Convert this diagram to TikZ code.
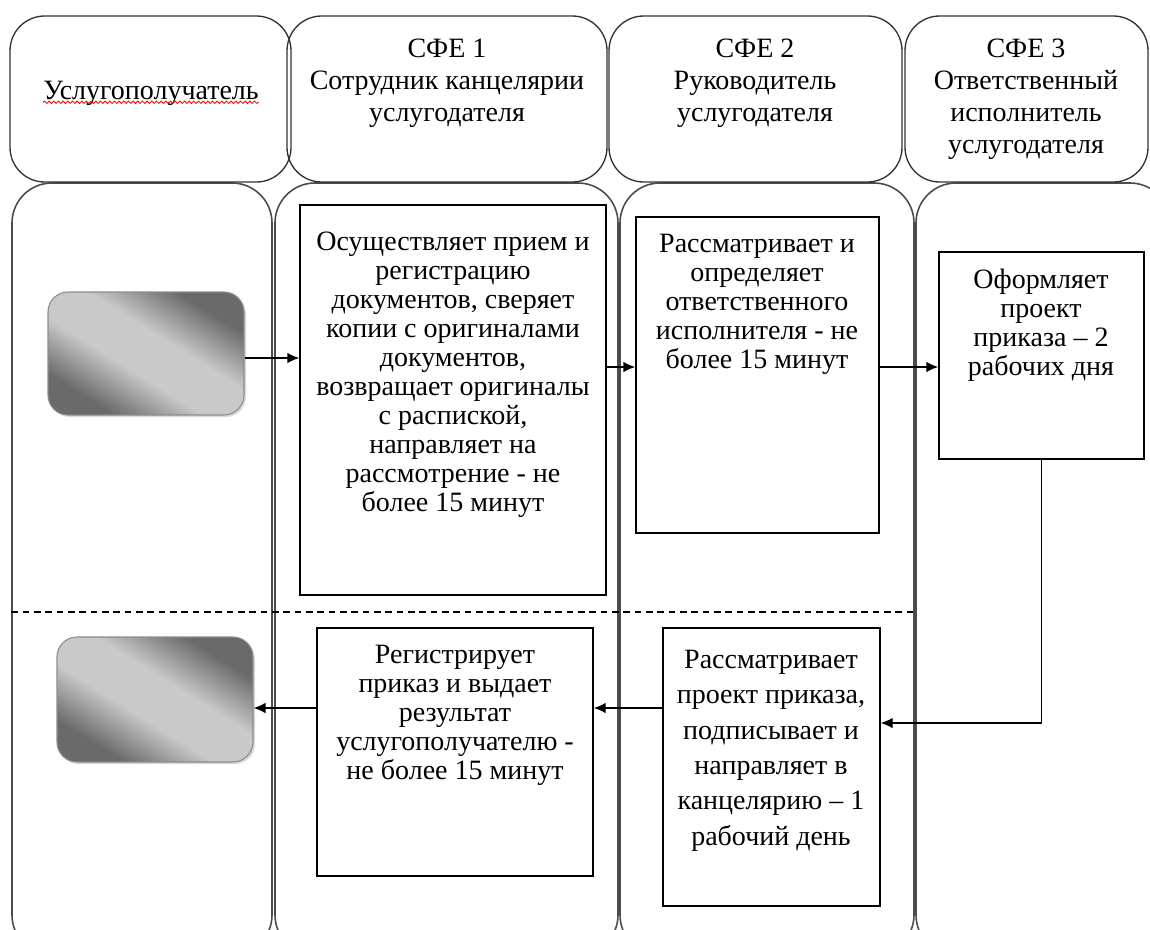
\documentclass[tikz,border=0pt]{standalone}
\usepackage{fontspec}
\setmainfont{Liberation Serif}
\usetikzlibrary{arrows.meta,fit,shadows,decorations.pathmorphing}

\definecolor{gdark}{HTML}{6A6A6A}
\definecolor{glight}{HTML}{C9C9C9}
\pgfdeclareverticalshading{glass}{100bp}{color(0bp)=(gdark); color(27bp)=(gdark);
  color(43bp)=(glight); color(57bp)=(glight); color(73bp)=(gdark); color(100bp)=(gdark)}

\tikzset{%
  >={Latex[length=9pt,width=8pt]},
  hdr/.style={draw=black!80, line width=1pt, rounded corners=26pt, inner sep=0pt},
  lane/.style={draw=black!70, line width=1.2pt, rounded corners=30pt, inner sep=0pt},
  proc/.style={draw, line width=1.1pt, inner sep=0pt},
  txt/.style={anchor=north, inner sep=0pt, align=center, font=\fontsize{21}{21.75}\selectfont},
  htxt/.style={txt, font=\fontsize{21}{24}\selectfont},
  ext/.style={draw=black!45, line width=0.8pt, rounded corners=15pt, inner sep=0pt,
    shading=glass, shading angle=-32,
    drop shadow={opacity=0.3, shadow xshift=1.5pt, shadow yshift=-1.5pt}},
  flow/.style={->, line width=1.1pt}
}

\begin{document}
\begin{tikzpicture}[x=0.75pt, y=-0.75pt]
  \useasboundingbox (0,0) rectangle (1150,929);
  \clip (0,0) rectangle (1150,929);

  % lanes
  \node[lane, fit={(12,183) (272,955)}] (lane0) {};
  \node[lane, fit={(275,183) (618,955)}] (lane1) {};
  \node[lane, fit={(620,183) (914,955)}] (lane2) {};
  \node[lane, fit={(916,183) (1170,955)}] (lane3) {};

  % headers
  \node[hdr, fit={(10,16) (291,182)}] (hdr0) {};
  \node[hdr, fit={(287,16) (607,182)}] (hdr1) {};
  \node[hdr, fit={(609,16) (902,182)}] (hdr2) {};
  \node[hdr, fit={(905,16) (1148,182)}] (hdr3) {};

  \node[htxt] (cust) at (151,81) {Услугополучатель};
  \draw[red, line width=0.6pt, decorate, decoration={snake, amplitude=0.9pt, segment length=3.5pt}]
    ([yshift=-2pt]cust.base west) -- ([yshift=-2pt]cust.base east);
  \node[htxt] (sfe1) at (447,39) {СФЕ 1\\Сотрудник канцелярии\\услугодателя};
  \node[htxt] (sfe2) at (755,39) {СФЕ 2\\Руководитель\\услугодателя};
  \node[htxt] (sfe3) at (1026,39) {СФЕ 3\\Ответственный\\исполнитель\\услугодателя};

  % split between request and result
  \coordinate (split) at (0,612);
  \draw[dashed, line width=0.8pt, dash pattern=on 5pt off 3.5pt]
    (lane0.west |- split) -- (lane2.east |- split);

  % process boxes
  \node[ext, fit={(48,292) (244,415)}] (start) {};
  \node[ext, fit={(57,637) (253,762)}] (finish) {};

  \node[proc, fit={(300,205) (606,595)}] (recv) {};
  \node[txt] (recvtext) at (453,232) {Осуществляет прием и\\регистрацию\\документов, сверяет\\копии с оригиналами\\документов,\\возвращает оригиналы\\с распиской,\\направляет на\\рассмотрение - не\\более 15 минут};

  \node[proc, fit={(636,217) (879,533)}] (review) {};
  \node[txt] (reviewtext) at (757,234) {Рассматривает и\\определяет\\ответственного\\исполнителя - не\\более 15 минут};

  \node[proc, fit={(939,252) (1144,459)}] (draft) {};
  \node[txt] (drafttext) at (1041,269) {Оформляет\\проект\\приказа – 2\\рабочих дня};

  \node[proc, fit={(663,628) (880,906)}] (sign) {};
  \node[txt, font=\fontsize{21}{26.5}\selectfont] (signtext) at (771,650) {Рассматривает\\проект приказа,\\подписывает и\\направляет в\\канцелярию – 1\\рабочий день};

  \node[proc, fit={(317,628) (593,876)}] (issue) {};
  \node[txt] (issuetext) at (455,645) {Регистрирует\\приказ и выдает\\результат\\услугополучателю -\\не более 15 минут};

  % connectors
  \coordinate (row0) at (0,358);
  \coordinate (row1) at (0,367);
  \coordinate (row2) at (0,708);
  \coordinate (row3) at (0,723);
  \draw[flow] (start.east |- row0) -- (recv.west |- row0);
  \draw[flow] (recv.east |- row1) -- (review.west |- row1);
  \draw[flow] (review.east |- row1) -- (draft.west |- row1);
  \draw[flow] (draft.south) |- (sign.east |- row3);
  \draw[flow] (sign.west |- row2) -- (issue.east |- row2);
  \draw[flow] (issue.west |- row2) -- (finish.east |- row2);
\end{tikzpicture}
\end{document}
